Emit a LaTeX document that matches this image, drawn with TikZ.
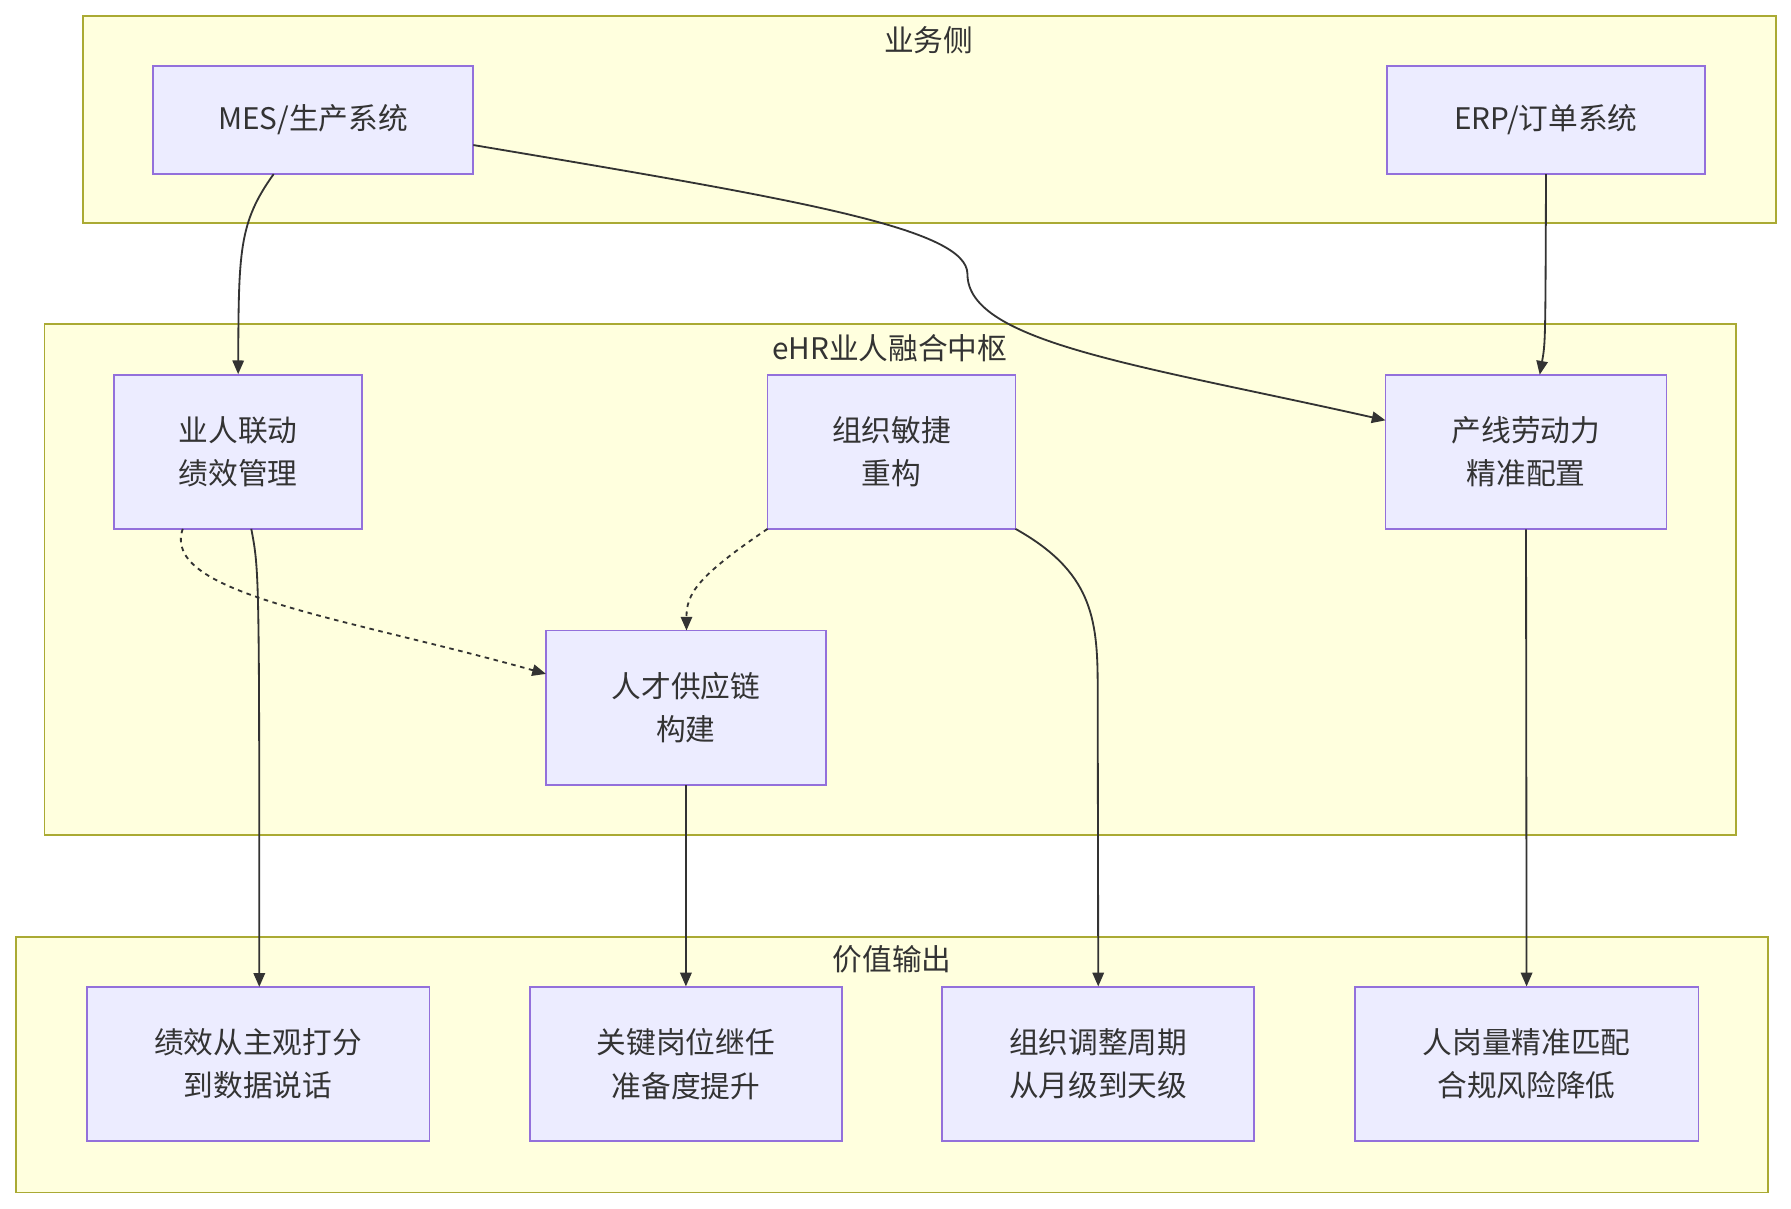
\documentclass[tikz,border=0pt]{standalone}
\usepackage{fontspec}
\setmainfont{Noto Sans CJK SC}
\usetikzlibrary{arrows.meta}
\definecolor{nf}{HTML}{ECECFF}\definecolor{nb}{HTML}{9370DB}
\definecolor{cf}{HTML}{FFFFDE}\definecolor{cb}{HTML}{AAAA33}
\definecolor{ln}{HTML}{333333}
\begin{document}
\begin{tikzpicture}[x=0.5pt,y=-0.5pt,
  clus/.style={draw=cb,fill=cf,line width=0.8pt},
  box/.style={draw=nb,fill=nf,line width=0.8pt},
  lbl/.style={font=\fontsize{13}{19}\selectfont,text=ln,align=center},
  e/.style={draw=ln,line width=0.8pt,-{Triangle[length=6pt,width=5pt]}},
  d/.style={e,dash pattern=on 2pt off 2pt}]
\useasboundingbox (0,0) rectangle (1568,1058);
\draw[clus] (73,14) rectangle (1555,195);
\draw[clus] (39,284) rectangle (1520,731);
\draw[clus] (14,820) rectangle (1548,1044);
\node[lbl] (t1) at (813,35) {业务侧};
\node[lbl] (t2) at (779,305) {eHR业人融合中枢};
\node[lbl] (t3) at (781,840) {价值输出};
\newcommand{\bx}[6]{\draw[box] (#2,#3) rectangle (#4,#5);
  \node[lbl,minimum width=(#4-#2)*0.5pt,minimum height=(#5-#3)*0.5pt] (#1) at ({(#2+#4)/2},{(#3+#5)/2}) {#6};}
\bx{mes}{134}{58}{414}{152}{MES/生产系统}
\bx{erp}{1214}{58}{1493}{152}{ERP/订单系统}
\bx{a}{100}{328}{317}{463}{业人联动\\绩效管理}
\bx{b}{672}{328}{889}{463}{组织敏捷\\重构}
\bx{c}{1213}{328}{1459}{463}{产线劳动力\\精准配置}
\bx{dd}{478}{552}{723}{687}{人才供应链\\构建}
\bx{ee}{76}{864}{376}{999}{绩效从主观打分\\到数据说话}
\bx{f}{464}{864}{737}{999}{关键岗位继任\\准备度提升}
\bx{g}{825}{864}{1098}{999}{组织调整周期\\从月级到天级}
\bx{h}{1186}{864}{1487}{999}{人岗量精准匹配\\合规风险降低}
\draw[e] (mes.south west) ++(106,0) .. controls (209,195) and (209,220) .. (a.north);
\draw[e] (mes.east) ++(0,22) .. controls (700,175) and (847,200) .. (847,240) .. controls (847,300) and (1000,320) .. (1213,368);
\draw[e] (erp.south) .. controls (1353,300) and (1353,300) .. (1348,328);
\draw[e] (220,463) .. controls (227,500) .. (227,864);
\draw[d] (160,463) .. controls (140,520) and (300,540) .. (478,590);
\draw[d] (672,463) .. controls (610,505) and (601,520) .. (601,552);
\draw[e] (dd.south) -- (f.north);
\draw[e] (889,463) .. controls (955,500) and (961,540) .. (961,600) -- (g.north);
\draw[e] (c.south) -- (h.north);
\end{tikzpicture}
\end{document}
